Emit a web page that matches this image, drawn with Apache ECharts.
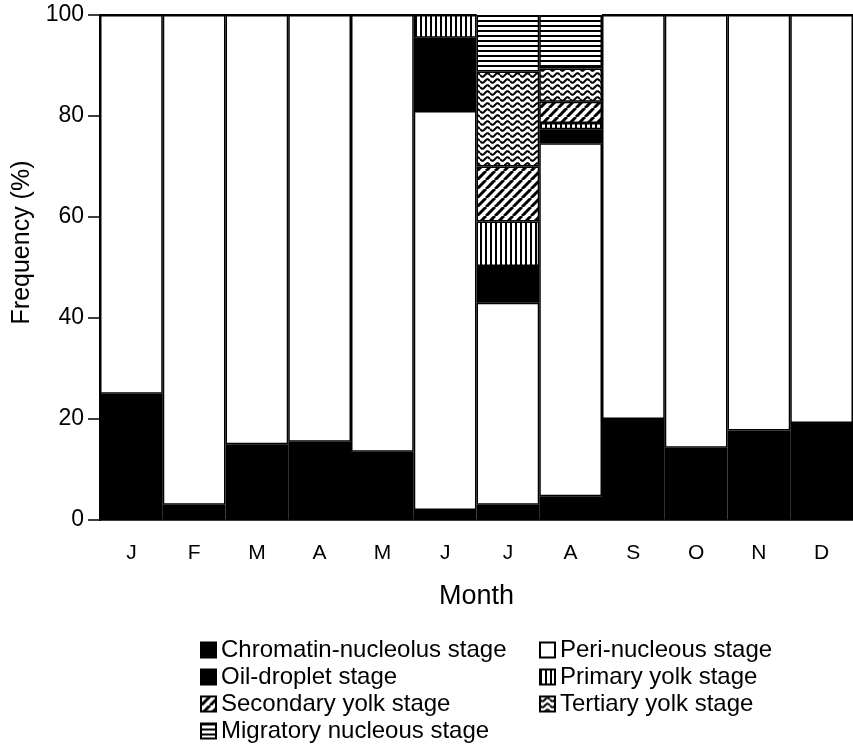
<!DOCTYPE html>
<html>
<head>
<meta charset="utf-8">
<script src="https://cdn.jsdelivr.net/npm/echarts@6/dist/echarts.min.js"></script>
<style>
html,body{margin:0;padding:0;background:#fff;}
#c{width:853px;height:749px;}
</style>
</head>
<body>
<div id="c"></div>
<script>
// ---- data (percent) ----
const months = ['J','F','M','A','M','J','J','A','S','O','N','D'];
const chromatin = [25, 3, 15, 15.5, 13.5, 2, 3, 4.7, 20, 14.3, 17.7, 19.2];
const peri      = [75, 97, 85, 84.5, 86.5, 79, 40, 69.9, 80, 85.7, 82.3, 80.8];
const oilDroplet = [0, 0, 0, 0, 0, 14.5, 7.3, 2.8, 0, 0, 0, 0];
const primaryYolk = [0, 0, 0, 0, 0, 4.5, 8.8, 1.2, 0, 0, 0, 0];
const secondaryYolk = [0, 0, 0, 0, 0, 0, 10.9, 4.2, 0, 0, 0, 0];
const tertiaryYolk = [0, 0, 0, 0, 0, 0, 18.8, 6.6, 0, 0, 0, 0];
const migratory = [0, 0, 0, 0, 0, 0, 11.2, 10.6, 0, 0, 0, 0];
const yTicks = [0, 20, 40, 60, 80, 100];

// ---- hatch patterns ----
function makeCanvas(w, h, draw) {
  const c = document.createElement('canvas');
  c.width = w; c.height = h;
  const g = c.getContext('2d');
  g.fillStyle = '#fff'; g.fillRect(0, 0, w, h);
  g.fillStyle = '#000'; g.strokeStyle = '#000';
  draw(g, w, h);
  return { image: c, repeat: 'repeat' };
}
const patVertical = makeCanvas(5, 5, (g) => { g.fillRect(0, 0, 2, 5); });
const patHorizontal = makeCanvas(5, 5, (g) => { g.fillRect(0, 0, 5, 2); });
const patDiagonal = makeCanvas(9, 9, (g, w, h) => {
  g.lineWidth = 3;
  for (let k = -1; k <= 1; k++) {
    g.beginPath();
    g.moveTo(k * w, h);
    g.lineTo(k * w + w, 0);
    g.stroke();
  }
});
const patWave = makeCanvas(10, 6, (g, w, h) => {
  g.lineWidth = 2;
  for (let k = -1; k <= 1; k++) {
    g.beginPath();
    const y0 = 3 + k * h;
    g.moveTo(0, y0);
    for (let x = 0; x <= w; x += 0.5) {
      g.lineTo(x, y0 + 1.8 * Math.sin(x / w * Math.PI * 2));
    }
    g.stroke();
  }
});

const names = ['Chromatin-nucleolus stage', 'Peri-nucleous stage', 'Oil-droplet stage',
  'Primary yolk stage', 'Secondary yolk stage', 'Tertiary yolk stage', 'Migratory nucleous stage'];
const dataSets = [chromatin, peri, oilDroplet, primaryYolk, secondaryYolk, tertiaryYolk, migratory];
const fills = ['#000', '#fff', '#000', patVertical, patDiagonal, patWave, patHorizontal];

const font = 'Liberation Sans, Arial, sans-serif';

const series = names.map((n, i) => ({
  name: n,
  type: 'bar',
  stack: 'total',
  barCategoryGap: '0%',
  data: dataSets[i],
  itemStyle: { color: fills[i], borderColor: '#000', borderWidth: 1.5 },
  emphasis: { disabled: true },
  silent: true
}));

const legendCommon = {
  orient: 'vertical', top: 638, itemGap: 3, padding: 0, height: 111,
  itemWidth: 15, itemHeight: 15, icon: 'rect',
  textStyle: { fontFamily: font, fontSize: 24, color: '#000', padding: [0, 0, 0, 0] },
  selectedMode: false
};

const chart = echarts.init(document.getElementById('c'), null, { renderer: 'canvas' });
chart.setOption({
  animation: false,
  backgroundColor: '#fff',
  grid: { left: 100, right: 0, top: 15, bottom: 229, containLabel: false },
  xAxis: {
    type: 'category',
    data: months,
    name: 'Month',
    nameLocation: 'middle',
    nameGap: 63,
    nameTextStyle: { fontFamily: font, fontSize: 27, color: '#000' },
    axisLine: { show: true, lineStyle: { color: '#000', width: 1.5 } },
    axisTick: { show: false },
    axisLabel: { fontFamily: font, fontSize: 21, color: '#000', margin: 23 }
  },
  yAxis: {
    type: 'value',
    min: 0, max: 100, interval: 20,
    name: 'Frequency (%)',
    nameLocation: 'middle',
    nameGap: 64,
    nameRotate: 90,
    nameTextStyle: { fontFamily: font, fontSize: 25, color: '#000', padding: [0, 0, 0, 50] },
    axisLine: { show: true, lineStyle: { color: '#000', width: 2 } },
    axisTick: { show: true, length: 12, lineStyle: { color: '#000', width: 1.5 } },
    axisLabel: { fontFamily: font, fontSize: 23, color: '#000', margin: 16,
      formatter: (v) => yTicks.includes(v) ? String(v) : '' },
    splitLine: { show: false }
  },
  legend: [
    Object.assign({}, legendCommon, { data: [names[0], names[2], names[4], names[6]], left: 200 }),
    Object.assign({}, legendCommon, { data: [names[1], names[3], names[5]], left: 539 })
  ],
  series: series
});
</script>
</body>
</html>
